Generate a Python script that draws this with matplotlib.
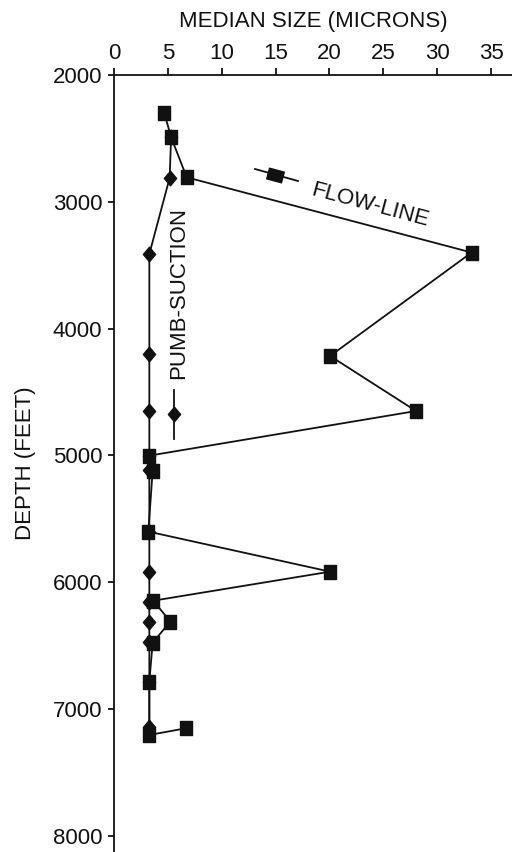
import matplotlib
matplotlib.use("Agg")
import matplotlib.pyplot as plt
from matplotlib.markers import MarkerStyle
from matplotlib.transforms import Affine2D
from matplotlib.path import Path

plt.rcParams['font.family'] = ['Liberation Sans', 'DejaVu Sans']

# Flow-line samples (median size microns, depth feet)
flow_size = [4.67, 5.3, 6.75, 33.2, 20.06, 28.04, 3.28, 3.59, 3.19, 20.06,
             3.65, 5.23, 3.59, 3.28, 3.28, 6.69]
flow_depth = [2300, 2490, 2807, 3400, 4216, 4650, 5002, 5120, 5601, 5917,
              6146, 6311, 6477, 6785, 7205, 7152]

# Pump-suction samples
pump_size = [5.3, 5.17, 3.28, 3.28, 3.28, 3.28, 3.28, 3.28, 3.28, 3.28,
             3.28, 3.28, 3.28, 3.28]
pump_depth = [2490, 2810, 3412, 4203, 4647, 5002, 5117, 5601, 5917, 6154,
              6311, 6472, 6785, 7145]

x_ticks = [0, 5, 10, 15, 20, 25, 30, 35]
y_ticks = [2000, 3000, 4000, 5000, 6000, 7000, 8000]

W, H = 512, 852
fig = plt.figure(figsize=(W / 100, H / 100), dpi=100)
ax = fig.add_axes([114 / W, 0, 1 - 114 / W, 1 - 75 / H])

rect = Path([(-0.42, -0.5), (0.42, -0.5), (0.42, 0.5), (-0.42, 0.5), (-0.42, -0.5)],
            [Path.MOVETO, Path.LINETO, Path.LINETO, Path.LINETO, Path.CLOSEPOLY])
wide_rect = Path([(-0.5, -0.36), (0.5, -0.36), (0.5, 0.36), (-0.5, 0.36), (-0.5, -0.36)],
                 [Path.MOVETO, Path.LINETO, Path.LINETO, Path.LINETO, Path.CLOSEPOLY])
diam = Path([(0, -0.5), (0.42, 0), (0, 0.5), (-0.42, 0), (0, -0.5)],
            [Path.MOVETO, Path.LINETO, Path.LINETO, Path.LINETO, Path.CLOSEPOLY])

ink = '#111111'
ax.plot(pump_size, pump_depth, color=ink, lw=1.3, marker=diam,
        markersize=10.5, markerfacecolor=ink, markeredgecolor=ink, zorder=3)
ax.plot(flow_size, flow_depth, color=ink, lw=1.3, marker=rect,
        markersize=9.5, markerfacecolor=ink, markeredgecolor=ink, zorder=4)

ax.set_xlim(0, 36.95)
ax.set_ylim(8128, 2000)
ax.set_xticks(x_ticks)
ax.set_yticks(y_ticks)

ax.xaxis.tick_top()
ax.xaxis.set_label_position('top')
for s in ['right', 'bottom']:
    ax.spines[s].set_visible(False)
for s in ['left', 'top']:
    ax.spines[s].set_linewidth(1.3)
    ax.spines[s].set_color(ink)

ax.tick_params(axis='x', direction='out', length=4.8, width=1.3, pad=3,
               labelsize=16, colors=ink)
ax.tick_params(axis='y', direction='out', length=4.5, width=1.3, pad=4,
               labelsize=16, colors=ink)

ax.set_xlabel('MEDIAN SIZE (MICRONS)', fontsize=16, color=ink, labelpad=12)
ax.set_ylabel('DEPTH (FEET)', fontsize=16, color=ink, labelpad=12)

# Legend annotations
ax.plot([(255 - 114) / 398, (298 - 114) / 398], [1 - (169 - 75) / 777, 1 - (181 - 75) / 777],
        transform=ax.transAxes, color=ink, lw=1.3)
ax.plot([(275 - 114) / 398], [1 - (174.5 - 75) / 777], transform=ax.transAxes,
        marker=MarkerStyle(wide_rect, transform=Affine2D().rotate_deg(-15)),
        markersize=11, color=ink, lw=0)
ax.text((370 - 114) / 398, 1 - (205 - 75) / 777, 'FLOW-LINE', transform=ax.transAxes,
        rotation=-15, ha='center', va='center', fontsize=16, color=ink,
        rotation_mode='anchor')

ax.plot([(174 - 114) / 398] * 2, [1 - (390 - 75) / 777, 1 - (439 - 75) / 777],
        transform=ax.transAxes, color=ink, lw=1.3)
ax.plot([(174 - 114) / 398], [1 - (414 - 75) / 777], transform=ax.transAxes,
        marker=diam, markersize=10.5, color=ink, lw=0)
ax.text((179 - 114) / 398, 1 - (293.5 - 75) / 777, 'PUMB-SUCTION', transform=ax.transAxes,
        rotation=90, ha='center', va='center', fontsize=16, color=ink)

fig.savefig('out.png', dpi=100)
